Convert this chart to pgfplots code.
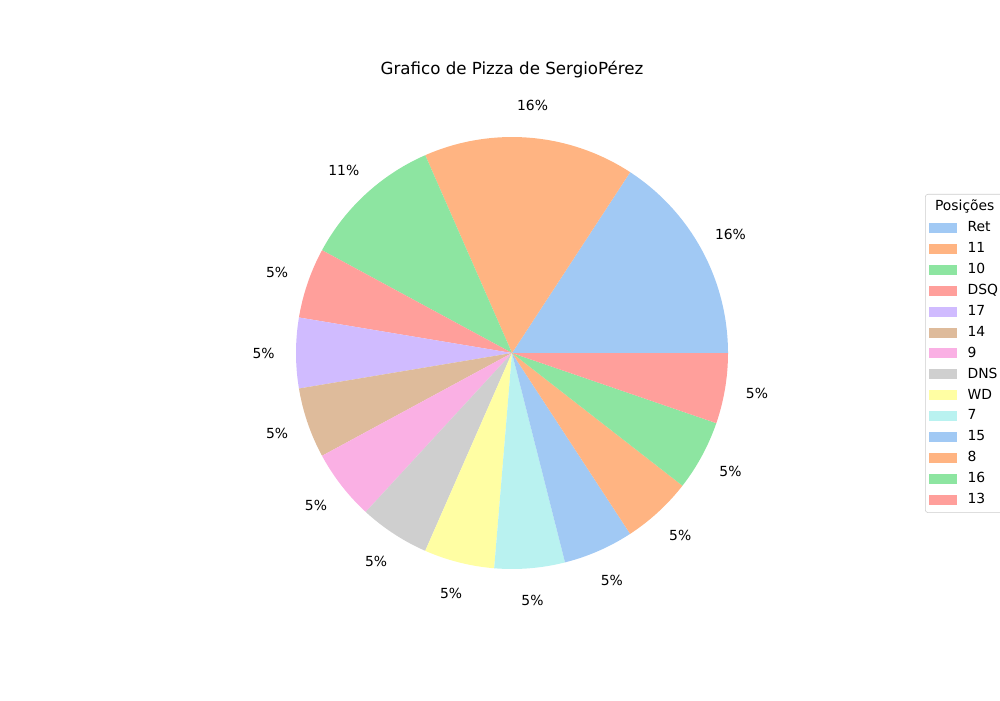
\documentclass[border=0pt]{standalone}
\usepackage{fontspec}
\setmainfont{DejaVu Sans}
\usepackage{pgfplots}
\pgfplotsset{compat=1.18}

% seaborn pastel
\definecolor{c0}{HTML}{A1C9F4}
\definecolor{c1}{HTML}{FFB482}
\definecolor{c2}{HTML}{8DE5A1}
\definecolor{c3}{HTML}{FF9F9B}
\definecolor{c4}{HTML}{D0BBFF}
\definecolor{c5}{HTML}{DEBB9B}
\definecolor{c6}{HTML}{FAB0E4}
\definecolor{c7}{HTML}{CFCFCF}
\definecolor{c8}{HTML}{FFFEA3}
\definecolor{c9}{HTML}{B9F2F0}

% total = 19 races; one slice per position
% #1 = counts before this slice, #2 = count, #3 = colour, #4 = label, #5 = percent text
\newcommand{\slice}[5]{%
  \addplot[fill=#3, draw=none, domain={#1*360/19}:{(#1+#2)*360/19}, samples=60]
    ({216*cos(x)},{216*sin(x)}) -- (axis cs:0,0) -- cycle;
  \addlegendentry{#4}
  \node[font=\fontsize{10}{12}\selectfont] at (axis cs:{248.4*cos((#1+#2/2)*360/19)},{248.4*sin((#1+#2/2)*360/19)}) {#5};
}

\begin{document}
\begin{tikzpicture}
\begin{axis}[
    at={(0,0)}, anchor=south west,
    scale only axis,
    width=720pt, height=504pt,
    xmin=-512, xmax=488,
    ymin=-347, ymax=353,
    hide axis,
    clip=false,
    legend cell align=left,
    legend image code/.code={\fill[#1, draw=none, sharp corners] (0pt,-3.6pt) rectangle (20pt,3.6pt);},
    legend style={
        at={(0.925,0.7229)}, anchor=north west,
        draw=black!20, rounded corners=2pt, fill=white,
        font=\fontsize{10}{12}\selectfont,
        row sep=2.55pt, column sep=6pt, inner xsep=3pt, inner ysep=3pt,
        nodes={inner sep=1.5pt, text height=7.5pt, text depth=2pt},
    },
]
\addlegendimage{empty legend}
\addlegendentry{\hspace{-23.5pt}Posições}
\slice{0}{3}{c0}{Ret}{16\%}
\slice{3}{3}{c1}{11}{16\%}
\slice{6}{2}{c2}{10}{11\%}
\slice{8}{1}{c3}{DSQ}{5\%}
\slice{9}{1}{c4}{17}{5\%}
\slice{10}{1}{c5}{14}{5\%}
\slice{11}{1}{c6}{9}{5\%}
\slice{12}{1}{c7}{DNS}{5\%}
\slice{13}{1}{c8}{WD}{5\%}
\slice{14}{1}{c9}{7}{5\%}
\slice{15}{1}{c0}{15}{5\%}
\slice{16}{1}{c1}{8}{5\%}
\slice{17}{1}{c2}{16}{5\%}
\slice{18}{1}{c3}{13}{5\%}
\node[font=\fontsize{12}{14}\selectfont] at (axis cs:0,283) {Grafico de Pizza de SergioPérez};
\end{axis}
\pgfresetboundingbox
\path (0,0) rectangle (720pt,504pt);
\end{tikzpicture}
\end{document}
